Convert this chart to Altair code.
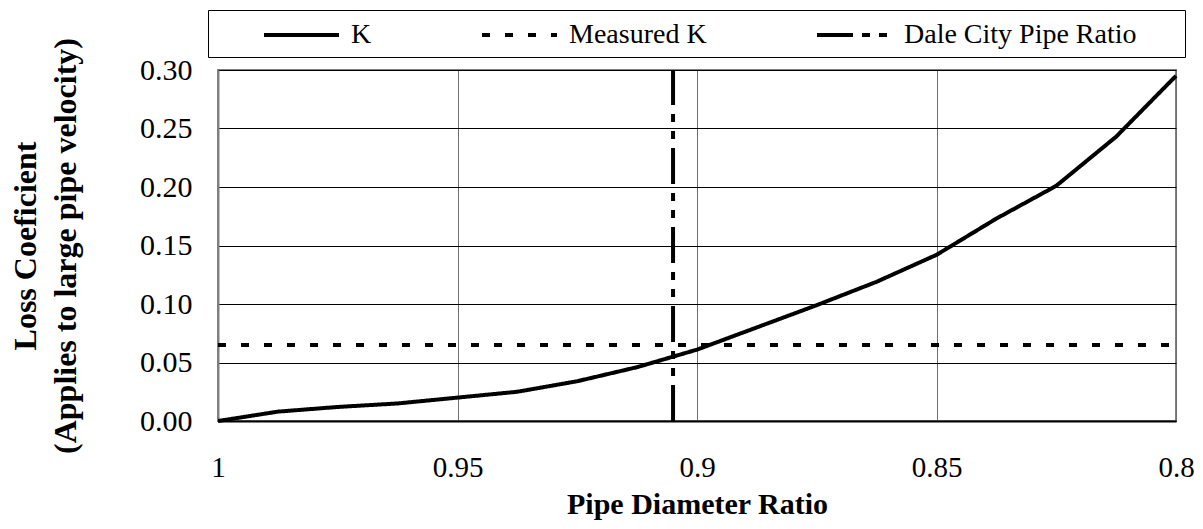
import altair as alt
import pandas as pd

# ---- data ----
ratio = [1.0, 0.9875, 0.975, 0.9625, 0.95, 0.9375, 0.925, 0.9125, 0.9,
         0.8875, 0.875, 0.8625, 0.85, 0.8375, 0.825, 0.8125, 0.8]
k_values = [0.0, 0.008, 0.012, 0.015, 0.020, 0.025, 0.034, 0.046, 0.061,
            0.080, 0.099, 0.119, 0.142, 0.173, 0.201, 0.243, 0.295]
measured_k = 0.065
dale_city_ratio = 0.905
x_ticks = [1.0, 0.95, 0.9, 0.85, 0.8]
y_ticks = [0.0, 0.05, 0.10, 0.15, 0.20, 0.25, 0.30]
series_names = ["K", "Measured K", "Dale City Pipe Ratio"]

rows = []
for i, (x, y) in enumerate(zip(ratio, k_values)):
    rows.append({"series": "K", "x": x, "y": y, "idx": i})
rows.append({"series": "Measured K", "x": x_ticks[0], "y": measured_k, "idx": 0})
rows.append({"series": "Measured K", "x": x_ticks[-1], "y": measured_k, "idx": 1})
rows.append({"series": "Dale City Pipe Ratio", "x": dale_city_ratio, "y": y_ticks[0], "idx": 0})
rows.append({"series": "Dale City Pipe Ratio", "x": dale_city_ratio, "y": y_ticks[-1], "idx": 1})
df = pd.DataFrame(rows)

FONT = "Liberation Serif"

legend = alt.Legend(
    title="\u00a0",
    titleOrient="right",
    titlePadding=40,
    titleFontSize=4,
    orient="none",
    legendX=-10,
    legendY=-60,
    direction="horizontal",
    columns=3,
    strokeColor="black",
    fillColor="white",
    padding=8,
    symbolType="M-2.5,0H2.5",
    symbolSize=900,
    symbolStrokeWidth=4,
    symbolStrokeColor="black",
    symbolOffset=68.5,
    labelFont=FONT,
    labelFontSize=28,
    labelColor="black",
    labelOffset=32.5,
    labelLimit=400,
    columnPadding=62,
)

chart = alt.Chart(df).mark_line(strokeCap="butt").encode(
    x=alt.X(
        "x:Q",
        scale=alt.Scale(domain=[0.8, 1.0], reverse=True, nice=False, zero=False),
        axis=alt.Axis(
            values=x_ticks,
            format="~g",
            grid=True,
            gridColor="#707070",
            gridWidth=1,
            domainColor="black",
            domainWidth=2,
            ticks=False,
            labelPadding=32,
            labelFontSize=29,
            labelFlush=False,
            labelOverlap=False,
            title="Pipe Diameter Ratio",
            titleFontSize=30,
            titleY=92,
            titleBaseline="alphabetic",
        ),
    ),
    y=alt.Y(
        "y:Q",
        scale=alt.Scale(domain=[0, 0.3], nice=False),
        axis=alt.Axis(
            values=y_ticks,
            format=".2f",
            grid=True,
            gridColor="black",
            gridWidth=1,
            domainColor="#808080",
            domainWidth=2,
            ticks=False,
            labelPadding=26,
            title=["Loss Coeficient", "(Applies to large pipe velocity)"],
            titleAngle=270,
            titleX=-183,
            titleY=175.5,
            titleAlign="center",
            titleBaseline="alphabetic",
            titleLineHeight=40,
        ),
    ),
    color=alt.Color(
        "series:N",
        scale=alt.Scale(domain=series_names, range=["black", "black", "black"]),
        legend=legend,
    ),
    strokeDash=alt.StrokeDash(
        "series:N",
        scale=alt.Scale(domain=series_names,
                        range=[[1, 0], [8, 15], [36, 9, 8, 9, 8, 9]]),
        legend=legend,
    ),
    strokeWidth=alt.StrokeWidth(
        "series:N",
        scale=alt.Scale(domain=series_names, range=[4, 4, 4]),
        legend=None,
    ),
    order=alt.Order("idx:Q"),
).properties(
    width=958,
    height=351,
    autosize=alt.AutoSizeParams(type="none"),
    padding={"left": 210, "top": 62, "right": 19, "bottom": 100},
).configure_view(
    stroke="#808080",
    strokeWidth=2,
).configure_axis(
    labelFont=FONT,
    labelFontSize=30,
    labelColor="black",
    titleFont=FONT,
    titleFontSize=32,
    titleFontWeight="bold",
    titleColor="black",
)

chart.save("out.html", embed_options={"renderer": "svg", "actions": False})
